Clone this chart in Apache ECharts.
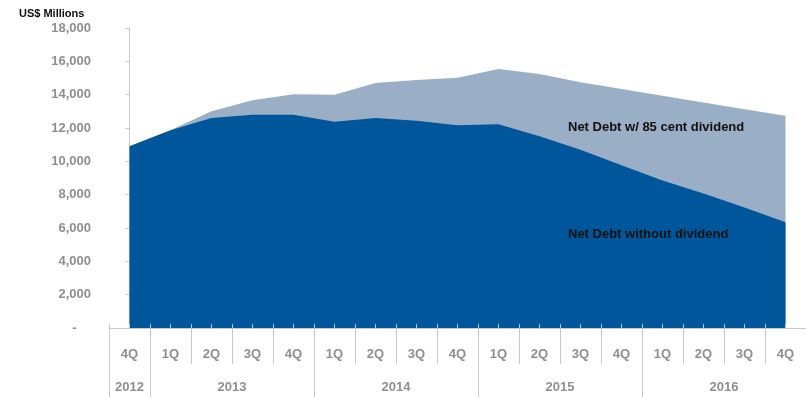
<!DOCTYPE html>
<html>
<head>
<meta charset="utf-8">
<script src="https://cdn.jsdelivr.net/npm/echarts@6/dist/echarts.min.js"></script>
<style>
  html, body { margin: 0; padding: 0; background: #fff; }
  #chart { width: 806px; height: 397px; }
</style>
</head>
<body>
<div id="chart"></div>
<script>
// Quarter labels along the bottom axis
const quarters = ['4Q', '1Q', '2Q', '3Q', '4Q', '1Q', '2Q', '3Q', '4Q',
                  '1Q', '2Q', '3Q', '4Q', '1Q', '2Q', '3Q', '4Q'];
// Year groups and how many quarters each spans
const years = ['2012', '2013', '2014', '2015', '2016'];
const quartersPerYear = [1, 4, 4, 4, 4];

// Net debt, US$ millions
const withDividend = [10900, 11870, 13010, 13670, 14030, 13990, 14700, 14880, 15010,
                      15540, 15240, 14740, 14340, 13930, 13530, 13130, 12730];
const withoutDividend = [10900, 11870, 12600, 12800, 12800, 12380, 12600, 12430, 12170,
                         12230, 11500, 10700, 9760, 8850, 8070, 7230, 6340];

// Y ticks
const yMin = 0, yMax = 18000, yStep = 2000;

// Year boundaries and year centres in category-index units
const yearBounds = [-0.5];
const yearCenters = [];
let acc = -0.5;
quartersPerYear.forEach(n => {
  yearCenters.push(acc + n / 2);
  acc += n;
  yearBounds.push(acc);
});

const axisGray = '#c8c8c8';
const labelGray = '#8f8f8f';
const font = 'Liberation Sans, Arial, sans-serif';

const chart = echarts.init(document.getElementById('chart'), null, { renderer: 'canvas' });

chart.setOption({
  animation: false,
  backgroundColor: '#ffffff',
  grid: { left: 109, top: 28, width: 698, bottom: 69 },
  xAxis: [
    {
      // quarter axis
      type: 'category',
      data: quarters,
      boundaryGap: true,
      position: 'bottom',
      axisLine: { show: true, lineStyle: { color: axisGray, width: 1 } },
      axisTick: { show: true, length: 36, lineStyle: { color: axisGray } },
      axisLabel: { margin: 20, color: labelGray, fontSize: 13, fontWeight: 'bold', fontFamily: font, interval: 0 },
      splitLine: { show: false },
      z: 5
    },
    {
      // small inside ticks at half-quarter steps
      type: 'value',
      min: -0.5,
      max: quarters.length - 0.5,
      interval: 0.5,
      position: 'bottom',
      axisLine: { show: false },
      axisTick: { show: true, inside: true, length: 4, lineStyle: { color: '#b9c6d6' } },
      axisLabel: { show: false },
      splitLine: { show: false },
      z: 6
    },
    {
      // year axis
      type: 'value',
      min: -0.5,
      max: quarters.length - 0.5,
      position: 'bottom',
      axisLine: { show: false },
      axisTick: { show: true, length: 70, customValues: yearBounds, lineStyle: { color: axisGray } },
      axisLabel: {
        margin: 53,
        customValues: yearCenters,
        color: labelGray, fontSize: 13, fontWeight: 'bold', fontFamily: font,
        formatter: v => {
          const i = yearCenters.findIndex(c => Math.abs(c - v) < 1e-6);
          return i >= 0 ? years[i] : '';
        }
      },
      splitLine: { show: false },
      z: 5
    }
  ],
  yAxis: {
    type: 'value',
    min: yMin,
    max: yMax,
    interval: yStep,
    axisLine: { show: true, lineStyle: { color: axisGray } },
    axisTick: { show: true, length: 4, lineStyle: { color: axisGray } },
    axisLabel: {
      margin: 18, color: labelGray, fontSize: 13, fontWeight: 'bold', fontFamily: font,
      formatter: v => v === 0 ? '-    ' : v.toLocaleString('en-US')
    },
    splitLine: { show: false }
  },
  series: [
    {
      name: 'Net Debt w/ 85 cent dividend',
      type: 'line',
      xAxisIndex: 0,
      data: withDividend,
      symbol: 'none',
      lineStyle: { width: 0 },
      areaStyle: { color: '#9aaec6', opacity: 1 },
      z: 2
    },
    {
      name: 'Net Debt without dividend',
      type: 'line',
      xAxisIndex: 0,
      data: withoutDividend,
      symbol: 'none',
      lineStyle: { width: 0 },
      areaStyle: { color: '#00569a', opacity: 1 },
      z: 3
    }
  ],
  graphic: {
    elements: [
      { type: 'text', left: 19, top: 8, z: 100,
        style: { text: 'US$ Millions', font: 'bold 11px ' + font, fill: '#111' } },
      { type: 'text', left: 568, top: 121, z: 100,
        style: { text: 'Net Debt w/ 85 cent dividend', font: 'bold 13px ' + font, fill: '#111' } },
      { type: 'text', left: 568, top: 228, z: 100,
        style: { text: 'Net Debt without dividend', font: 'bold 13px ' + font, fill: '#111' } }
    ]
  }
});
</script>
</body>
</html>
